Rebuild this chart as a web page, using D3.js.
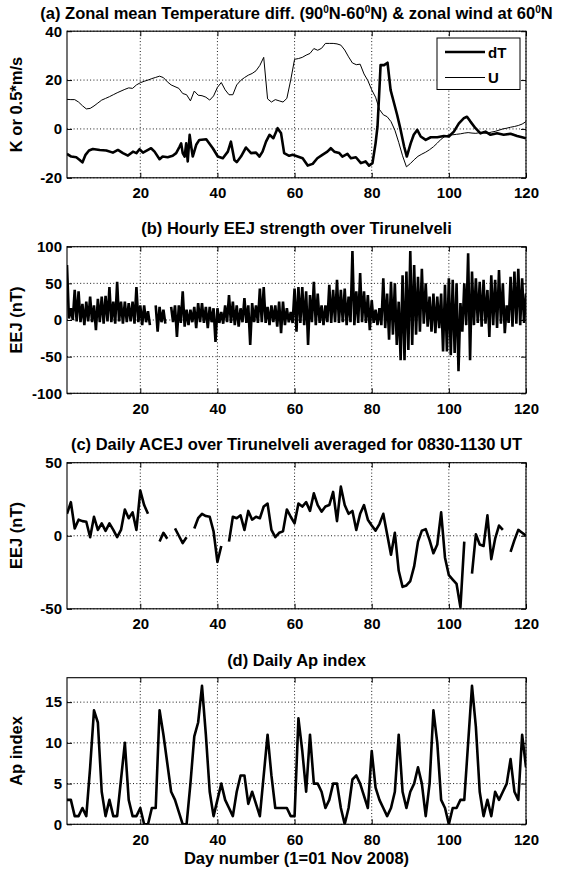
<!DOCTYPE html>
<html><head><meta charset="utf-8">
<script src="https://cdn.jsdelivr.net/npm/d3@7"></script>
<style>
body{margin:0;background:#fff}
svg text{font-family:"Liberation Sans",Arial,Helvetica,sans-serif;font-weight:bold;fill:#000}
</style>
</head><body>
<svg id="chart" width="563" height="871"></svg>
<script>
// ---------------- DATA ----------------
const xTickValues = [20, 40, 60, 80, 100, 120];

// (a) dT readings: [day, K]
const dTPoints = [[1,-10.2],[2.1,-11.3],[3.4,-11.6],[4.3,-12.7],[5,-13.7],[5.8,-10.6],[6.7,-8.8],[7.7,-8.2],[9.5,-8.6],[11.2,-8.8],
[12.9,-9.7],[14.2,-8.6],[15.5,-9.9],[16.8,-10.9],[18.1,-9.3],[19,-9.9],[19.8,-8.3],[20.7,-9.7],[22,-8.6],[22.8,-7.9],
[23.7,-9.3],[25,-12.4],[25.8,-11.3],[27.1,-11.6],[28.4,-11],[29.3,-9.9],[30.2,-7.2],[30.6,-5.9],[31,-9.9],[31.5,-11.3],
[31.9,-5.9],[32.3,-13.3],[32.8,-2.4],[33.2,-7.2],[33.6,-11.3],[34.5,-6.5],[35.3,-4.5],[37.1,-4.2],[38.8,-7.9],[40.1,-11.3],
[41.4,-12],[42.7,-9.3],[43.5,-5.2],[44.4,-12.7],[45,-13.6],[46.1,-11.3],[47.4,-7.6],[48.7,-9.9],[50,-9.7],[50.9,-11.3],
[51.7,-9.3],[52.6,-5.2],[53.5,-2.4],[54.5,-3.8],[55.6,0.3],[56.5,-1.8],[57.3,-9.9],[58.6,-11],[59.5,-10.6],[60.8,-11.3],
[62.1,-12],[63.4,-15],[64.7,-14.3],[65.9,-12],[67.2,-10.6],[68.5,-9.3],[69.4,-7.9],[70.3,-9.3],[71.6,-9.9],[72.4,-11.3],
[73.7,-10.2],[74.6,-12],[75.9,-11.6],[77.2,-14],[78.4,-13.3],[79.3,-15],[80.2,-14],[81,-5.9],[81.5,1],[81.9,13.2],
[82.3,26.1],[83.2,26.1],[84.1,27.1],[84.9,15.9],[85.8,10.5],[86.6,5.7],[87.5,-0.4],[88.4,-7.2],[89.1,-11.3],[90.1,-5.9],
[90.9,-2.4],[91.8,-0.4],[92.7,-3.1],[94,-4.5],[95.3,-3.4],[97,-3.4],[98.7,-2.9],[100,-3.1],[101.3,-1.1],[102.6,2.3],
[103.9,4.4],[104.7,5],[105.6,3],[106.9,0.3],[108.2,-1.8],[109.5,-1.1],[110.8,-2.4],[112.5,-1.8],[114.2,-2.4],[116,-2],
[117.7,-2.9],[119,-3.4],[120,-3.8]];

// (a) zonal wind U (0.5*m/s), days 1..120
const windU = [
12.1,12,12,11,9.5,8.2,8.4,9.4,10.6,11.8,
12.5,13.2,14,14.8,15.5,16.2,16.8,16.6,18,18.9,
19.5,20,20.6,21.1,21.6,21,19.3,18,17.3,16.6,
14.5,14,11.5,15.5,13.8,13.6,13,11.8,13.5,17,
19,16,14,14,18,19.8,21,22,22.7,23.8,
26,29.3,12.3,11,12,11.5,11,12.5,20,28.5,
28.8,29.3,30.2,30.9,32.9,32.2,33,35,35,35,
34.8,34.3,32.3,29.5,27,26.3,26.5,22.5,19.8,16,
13,8,5.8,5,3,-0.5,-5.5,-11,-15.5,-14.2,
-12.6,-11.2,-10.3,-9.5,-8.5,-7.3,-5.8,-4.2,-3,-2.4,
-2.4,-2.2,-2,-1.7,-1.5,-1.7,-1.8,-1.5,-1.7,-1.8,
-1.3,-1,-0.5,0,0.3,0.7,1,1.4,2,3];

// (b) hourly EEJ: daily max and min of the hourly trace (nT), days 1..120
const eejMax = [
75,16,41,39,22,25,32,20,29,32,
33,45,25,52,25,25,23,25,45,20,
20,12,null,20,18,14,null,18,20,20,
39,14,14,18,23,23,18,18,16,16,
11,20,34,25,20,16,30,20,23,20,
43,45,18,20,20,25,25,16,11,43,
45,45,39,34,52,36,20,20,48,41,
55,41,43,32,94,39,64,39,34,27,
14,16,57,36,52,50,25,61,66,94,
75,59,70,50,32,36,32,36,48,57,
55,50,23,50,91,66,57,52,55,41,
61,55,68,50,20,59,66,70,57,36];
const eejMin = [
2,0,-2,-3,-7,-2,-3,-14,-3,-5,
-2,-3,-5,-2,-5,-3,-2,-5,-3,-7,
-3,-7,null,-16,-3,-5,null,-3,-23,-4,
-9,-7,-3,-11,-3,-4,-11,-3,-30,-4,
-5,-3,-4,-7,-9,-3,-4,-34,-3,-4,
-3,-4,-7,-3,-9,-18,-7,-3,-4,-16,
-4,-7,-34,-3,-7,-4,-7,-3,-4,-3,
-4,-3,-7,-3,-7,-4,-3,-4,-14,-4,
-7,-7,-11,-27,-20,-34,-55,-55,-41,-34,
-20,-16,-5,-9,-16,-18,-11,-43,-43,-48,
-45,-70,-16,-7,-55,-7,-4,-9,-5,-23,
-7,-11,-5,-18,-4,-9,-5,-7,-4,-7];

// (c) daily ACEJ 0830-1130 UT (nT), days 1..120, null = no data
const acej = [
15,23,5,11,10,9.6,-1,13,4,8.5,
3.4,8.5,4,-1,4,18,12,16,4,31,
21,15,null,null,-4,2,-2,null,5,0,
-5,-1,null,5,12,15,13.5,13,3,-18,
-7,null,-4,13,12,14,4,17,11,13,
12,20,22,4,-1,2,3,18,13,8.5,
22,20,23,17,29,21,16.5,20,21,30,
10,33.6,21,15,17,4,15,21,11,7,
3.5,8,15,1,-13,2,-24,-35,-34,-31,
-21,-4,3.5,4.5,-3,-12,-6,16,-15,-27,
-30,-33,-49,-4,null,-26,1,-6,-7,14,
-16,-2,7,4,null,-11,-3,4,2,0];

// (d) daily Ap index, days 1..120
const apIndex = [
3,3,1,1,2,1,7,14,12.5,4,
1,3,1,1,5.5,10,3,1,1,2,
0,0,2,2,14,11,7.5,4,3,1.5,
0,0,5,10.8,12.5,17,11,4,1,3,
5,3,2,1,4,6,6,2.5,4,2.5,
1,6,11,6,2,2,2,2,1,1,
13,9,4,11,5,5,4,2,3,5,
5,2,0,2,5.5,6,5,3.5,2,9,
4.5,3,2,1,2,4,11,4,2,4,
5,7,5,1,5,14,10,3,2,0,
2,2,3,3,10,17,12,4,1,3,
1,4,3,4,5,8,4,3,11,7];

const yTicksA = [-20, 0, 20, 40];
const yTicksB = [-100, -50, 0, 50, 100];
const yTicksC = [-50, 0, 50];
const yTicksD = [0, 5, 10, 15];

// ---------------- DRAWING ----------------
const svg = d3.select('#chart');
const days = d3.range(1, 121);
const x = d3.scaleLinear().domain([1, 120]).range([67, 526]);
const tickFont = 15, labelFont = 16.5;
const fmt = d => String(d);

function makePanel(id, top, bottom, domain, yTicks) {
  const y = d3.scaleLinear().domain(domain).range([bottom, top]);
  const g = svg.append('g');
  g.append('clipPath').attr('id', 'clip' + id)
    .append('rect').attr('x', x.range()[0]).attr('y', top)
    .attr('width', x.range()[1] - x.range()[0]).attr('height', bottom - top);
  g.append('g').selectAll('line').data(xTickValues).join('line')
    .attr('x1', d => x(d)).attr('x2', d => x(d)).attr('y1', top).attr('y2', bottom)
    .attr('stroke', '#000').attr('stroke-width', 0.9).attr('stroke-dasharray', '1,2.3');
  g.append('g').selectAll('line').data(yTicks).join('line')
    .attr('x1', x.range()[0]).attr('x2', x.range()[1]).attr('y1', d => y(d)).attr('y2', d => y(d))
    .attr('stroke', '#000').attr('stroke-width', 0.9).attr('stroke-dasharray', '1,2.3');
  const styleAxis = sel => {
    sel.select('.domain').remove();
    sel.selectAll('.tick line').attr('stroke', '#000').attr('stroke-width', 1);
    sel.selectAll('text').attr('font-size', tickFont).attr('fill', '#000');
    sel.attr('font-family', null).attr('font-size', null);
  };
  g.append('g').attr('transform', `translate(0,${bottom})`)
    .call(d3.axisBottom(x).tickValues(xTickValues).tickSizeInner(-5).tickSizeOuter(0).tickPadding(10).tickFormat(fmt))
    .call(styleAxis);
  g.append('g').attr('transform', `translate(0,${top})`)
    .call(d3.axisTop(x).tickValues(xTickValues).tickSizeInner(-5).tickSizeOuter(0).tickFormat(''))
    .call(styleAxis);
  g.append('g').attr('transform', `translate(${x.range()[0]},0)`)
    .call(d3.axisLeft(y).tickValues(yTicks).tickSizeInner(-5).tickSizeOuter(0).tickPadding(5).tickFormat(fmt))
    .call(styleAxis);
  g.append('g').attr('transform', `translate(${x.range()[1]},0)`)
    .call(d3.axisRight(y).tickValues(yTicks).tickSizeInner(-5).tickSizeOuter(0).tickFormat(''))
    .call(styleAxis);
  g.append('rect').attr('x', x.range()[0]).attr('y', top)
    .attr('width', x.range()[1] - x.range()[0]).attr('height', bottom - top)
    .attr('fill', 'none').attr('stroke', '#000').attr('stroke-width', 1.1);
  const plot = g.append('g').attr('clip-path', `url(#clip${id})`);
  return {y, g, plot, top, bottom};
}

function addTitle(parts, baseline) {
  const t = svg.append('text').attr('x', (x.range()[0] + x.range()[1]) / 2).attr('y', baseline)
    .attr('text-anchor', 'middle').attr('font-size', labelFont);
  let raised = false;
  parts.forEach(p => {
    if (typeof p === 'object') {
      t.append('tspan').attr('font-size', 10).attr('dy', -6).text(p.superscript);
      raised = true;
    } else {
      const s = t.append('tspan').text(p);
      if (raised) { s.attr('dy', 6); raised = false; }
    }
  });
}
function addYLabel(text, cy) {
  svg.append('text').attr('transform', `translate(22,${cy}) rotate(-90)`)
    .attr('text-anchor', 'middle').attr('font-size', labelFont).text(text);
}

// ---- panel (a)
const pa = makePanel('a', 31.2, 177.8, [-20, 40], yTicksA);
pa.plot.append('path').datum(windU)
  .attr('d', d3.line().x((d, i) => x(days[i])).y(d => pa.y(d)))
  .attr('fill', 'none').attr('stroke', '#000').attr('stroke-width', 1);
pa.plot.append('path').datum(dTPoints)
  .attr('d', d3.line().x(d => x(d[0])).y(d => pa.y(d[1])))
  .attr('fill', 'none').attr('stroke', '#000').attr('stroke-width', 2.6).attr('stroke-linejoin', 'round');
addTitle(['(a) Zonal mean Temperature diff. (90', {superscript: '0'}, 'N-60', {superscript: '0'}, 'N) & zonal wind at 60', {superscript: '0'}, 'N'], 19);
addYLabel('K or 0.5*m/s', 104.5);
const lg = svg.append('g');
lg.append('rect').attr('x', 437).attr('y', 38).attr('width', 83).attr('height', 51.5)
  .attr('fill', '#fff').attr('stroke', '#000').attr('stroke-width', 1);
const legendItems = [{name: 'dT', w: 2.6, yy: 52}, {name: 'U', w: 1, yy: 77.5}];
legendItems.forEach(it => {
  lg.append('line').attr('x1', 445).attr('x2', 485).attr('y1', it.yy).attr('y2', it.yy)
    .attr('stroke', '#000').attr('stroke-width', it.w);
  lg.append('text').attr('x', 488).attr('y', it.yy + 5.5).attr('font-size', tickFont).text(it.name);
});

// ---- panel (b)
const pb = makePanel('b', 246.7, 393.3, [-100, 100], yTicksB);
const eejTrace = [];
days.forEach((d, i) => {
  eejTrace.push({t: d, v: eejMax[i]});
  eejTrace.push({t: d + 0.5, v: eejMin[i]});
});
pb.plot.append('path').datum(eejTrace)
  .attr('d', d3.line().defined(d => d.v !== null).x(d => x(d.t)).y(d => pb.y(d.v)))
  .attr('fill', 'none').attr('stroke', '#000').attr('stroke-width', 2.6);
addTitle(['(b) Hourly EEJ strength over Tirunelveli'], 234);
addYLabel('EEJ (nT)', 320);

// ---- panel (c)
const pc = makePanel('c', 462.7, 608.8, [-50, 50], yTicksC);
pc.plot.append('path').datum(acej)
  .attr('d', d3.line().defined(d => d !== null).x((d, i) => x(days[i])).y(d => pc.y(d)))
  .attr('fill', 'none').attr('stroke', '#000').attr('stroke-width', 2.6).attr('stroke-linejoin', 'round');
addTitle(['(c) Daily ACEJ over Tirunelveli averaged for 0830-1130 UT'], 449.5);
addYLabel('EEJ (nT)', 535.5);

// ---- panel (d)
const pd = makePanel('d', 677.7, 824.3, [0, 18], yTicksD);
pd.plot.append('path').datum(apIndex)
  .attr('d', d3.line().x((d, i) => x(days[i])).y(d => pd.y(d)))
  .attr('fill', 'none').attr('stroke', '#000').attr('stroke-width', 2.6).attr('stroke-linejoin', 'round');
addTitle(['(d) Daily Ap index'], 665.5);
addYLabel('Ap index', 751);
svg.append('text').attr('x', (x.range()[0] + x.range()[1]) / 2).attr('y', 863.5)
  .attr('text-anchor', 'middle').attr('font-size', labelFont).text('Day number (1=01 Nov 2008)');
</script>
</body></html>
